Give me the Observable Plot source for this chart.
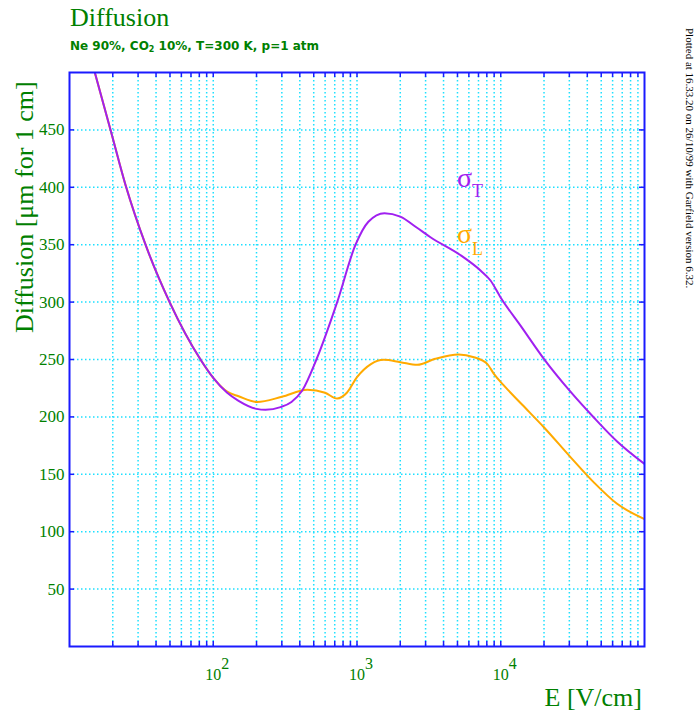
<!DOCTYPE html>
<html>
<head>
<meta charset="utf-8">
<script src="https://cdn.jsdelivr.net/npm/d3@7"></script>
<script src="https://cdn.jsdelivr.net/npm/@observablehq/plot@0.6"></script>
<style>
  body { margin: 0; background: #fff; }
  #chart { position: relative; width: 696px; height: 716px; }
</style>
</head>
<body>
<div id="chart"></div>
<script>
// ---- data ----
const fieldT = [15, 19.3, 24.8, 33.8, 49.7, 81.5, 100, 125, 150, 200, 231, 294, 350, 416, 522, 728, 977, 1200, 1553, 2000, 2600, 3245, 5230, 7230, 8490, 9950, 14000, 19950, 30550, 44400, 64500, 100000];
const sigmaT = [500, 450, 400, 350, 300, 250, 234, 221, 214, 207, 206.2, 208.5, 213, 223, 250, 300, 350, 370, 377.5, 374.5, 365, 356.5, 341, 327.5, 318.8, 304.3, 278, 250.6, 222, 199.5, 178.6, 159];

const fieldL = [15, 19.3, 24.8, 33.8, 49.7, 81.5, 100, 125, 150, 202, 300, 451, 600, 728, 850, 1000, 1250, 1535, 2000, 2625, 3500, 5100, 6500, 8050, 8960, 10500, 14000, 19950, 30550, 44400, 64500, 100000];
const sigmaL = [500, 450, 400, 350, 300, 250, 234, 222, 218, 213, 217.5, 223.6, 221, 216, 221, 234.6, 246, 249.7, 247.7, 245.4, 250.6, 254.4, 252, 246.2, 237.5, 227.4, 211, 191, 165, 143, 124.3, 111];

const yTicks = [50, 100, 150, 200, 250, 300, 350, 400, 450];
const xLabelTicks = [100, 1000, 10000];
const xLabelExps = ["2", "3", "4"];
const decades = [10, 100, 1000, 10000];
const multipliers = [1, 2, 3, 4, 5, 6, 7, 8, 9];
const xTicks = decades.flatMap(d => multipliers.map(k => k * d)).filter(v => v > 10);

const title = "Diffusion";
const subtitleParts = ["Ne 90%, CO", "2", " 10%, T=300 K, p=1 atm"];
const yLabel = "Diffusion [\u03bcm for 1 cm]";
const xLabel = "E [V/cm]";
const stamp = "Plotted at 16.33.20 on 26/10/99 with Garfield version 6.32.";

// ---- style ----
const green = "#008000";
const blue = "#1a1aff";
const cyan = "#1ee0ff";
const purple = "#a020f0";
const orange = "#ffaa00";
const serif = "Liberation Serif, Times New Roman, serif";

const dataT = fieldT.map((E, i) => ({E, v: sigmaT[i]}));
const dataL = fieldL.map((E, i) => ({E, v: sigmaL[i]}));

const W = 696, H = 716, mL = 69, mR = 52, mT = 72, mB = 70;
const frameW = W - mL - mR, frameH = H - mT - mB;
const tick = 5;

const chart = Plot.plot({
  width: W, height: H,
  marginLeft: mL, marginRight: mR, marginTop: mT, marginBottom: mB,
  style: {background: "white", overflow: "visible"},
  x: {type: "log", domain: [10, 100000], axis: null, label: null},
  y: {domain: [0, 500], axis: null, label: null},
  marks: [
    Plot.gridX(xTicks, {stroke: cyan, strokeOpacity: 1, strokeWidth: 1.5, strokeDasharray: "1.5,2.5"}),
    Plot.gridY(yTicks, {stroke: cyan, strokeOpacity: 1, strokeWidth: 1.5, strokeDasharray: "1.5,2.5"}),
    Plot.ruleX(xTicks, {x: d => d, insetTop: frameH - tick, stroke: blue, strokeWidth: 1.5}),
    Plot.ruleX(xTicks, {x: d => d, insetBottom: frameH - tick, stroke: blue, strokeWidth: 1.5}),
    Plot.ruleY(yTicks, {y: d => d, insetRight: frameW - tick, stroke: blue, strokeWidth: 1.5}),
    Plot.ruleY(yTicks, {y: d => d, insetLeft: frameW - tick, stroke: blue, strokeWidth: 1.5}),
    Plot.line(dataL, {x: "E", y: "v", stroke: orange, strokeWidth: 2, curve: "monotone-x", clip: true}),
    Plot.line(dataT, {x: "E", y: "v", stroke: purple, strokeWidth: 2, curve: "monotone-x", clip: true}),
    Plot.frame({stroke: blue, strokeWidth: 2}),
    Plot.axisY(yTicks, {tickSize: 0, tickPadding: 5, fontSize: 17, fill: green, fontFamily: serif, label: null}),
    Plot.text(xLabelTicks, {x: d => d, text: () => "10", frameAnchor: "bottom", dy: 28, fontSize: 16, fill: green, fontFamily: serif, lineAnchor: "middle"}),
    Plot.text(xLabelTicks, {x: d => d, text: (d, i) => xLabelExps[i], frameAnchor: "bottom", dx: 8, dy: 17, textAnchor: "start", fontSize: 16, fill: green, fontFamily: serif, lineAnchor: "middle"})
  ]
});

const svg = d3.select(chart);
svg.append("text").attr("x", 70).attr("y", 26).attr("fill", green).attr("text-anchor", "start")
  .attr("font-family", serif).attr("font-size", 26).text(title);

const sub = svg.append("text").attr("x", 70).attr("y", 50).attr("fill", green).attr("text-anchor", "start")
  .attr("font-family", "DejaVu Sans, sans-serif").attr("font-size", 12).attr("font-weight", "bold");
sub.append("tspan").text(subtitleParts[0]);
sub.append("tspan").attr("font-size", 8).attr("dy", 2).text(subtitleParts[1]);
sub.append("tspan").attr("dy", -2).text(subtitleParts[2]);

svg.append("text").attr("transform", "translate(33,333) rotate(-90)").attr("fill", green)
  .attr("font-family", serif).attr("font-size", 26).attr("text-anchor", "start").text(yLabel);

svg.append("text").attr("x", 642).attr("y", 706).attr("fill", green)
  .attr("font-family", serif).attr("font-size", 26).attr("text-anchor", "end").text(xLabel);

svg.append("text").attr("transform", "translate(686,28) rotate(90)").attr("fill", "#000").attr("text-anchor", "start")
  .attr("font-family", serif).attr("font-size", 11).text(stamp);

const lt = svg.append("text").attr("x", 457).attr("y", 187).attr("fill", purple).attr("text-anchor", "start")
  .attr("font-family", serif).attr("font-size", 28);
lt.append("tspan").text("\u03c3");
lt.append("tspan").attr("font-size", 18).attr("dy", 10).text("T");
const ll = svg.append("text").attr("x", 457).attr("y", 243).attr("fill", orange).attr("text-anchor", "start")
  .attr("font-family", serif).attr("font-size", 28);
ll.append("tspan").text("\u03c3");
ll.append("tspan").attr("font-size", 18).attr("dy", 12).text("L");

document.getElementById("chart").appendChild(chart);
</script>
</body>
</html>
